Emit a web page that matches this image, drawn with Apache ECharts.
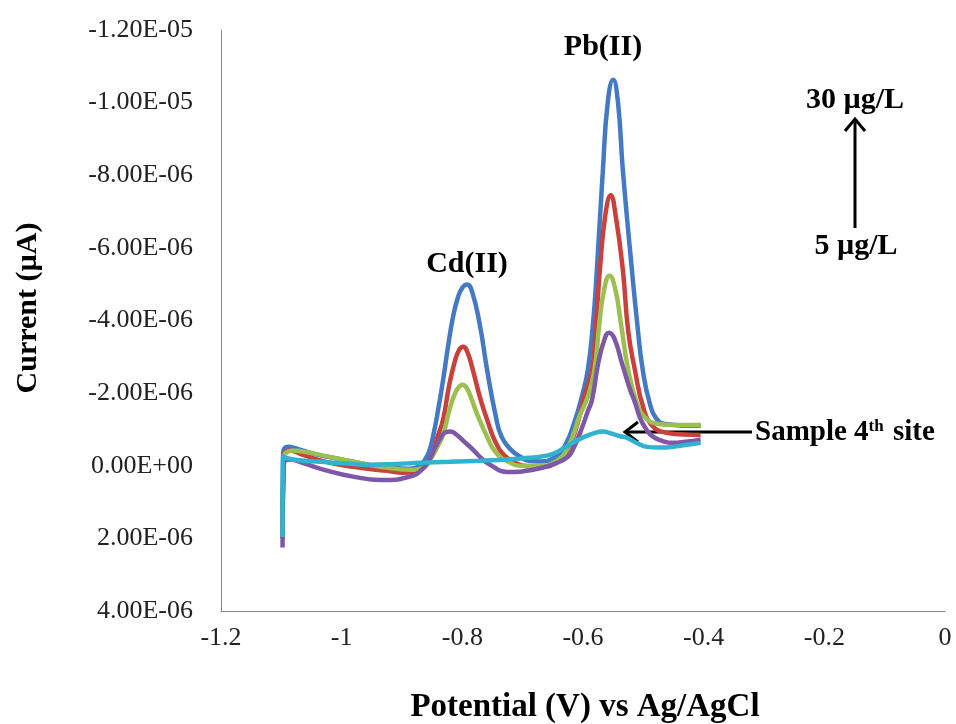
<!DOCTYPE html>
<html>
<head>
<meta charset="utf-8">
<script src="https://cdn.jsdelivr.net/npm/echarts@6/dist/echarts.min.js"></script>
<style>
  html,body{margin:0;padding:0;background:#fff;}
  #main{width:956px;height:724px;}
</style>
</head>
<body>
<div id="main"></div>
<script>
// potentials (V vs Ag/AgCl) and currents (in µA, axis shows A)
var potBlue = [-1.098,-1.097,-1.088,-1.080,-1.065,-1.040,-1.008,-0.970,-0.925,-0.890,-0.870,-0.862,-0.855,-0.848,-0.840,-0.832,-0.824,-0.816,-0.808,-0.800,-0.792,-0.784,-0.771,-0.759,-0.745,-0.735,-0.720,-0.704,-0.690,-0.671,-0.650,-0.630,-0.613,-0.602,-0.592,-0.583,-0.577,-0.567,-0.559,-0.550,-0.542,-0.534,-0.519,-0.510,-0.501,-0.489,-0.477,-0.464,-0.451,-0.430,-0.405]
var curBlue = [1.9,-0.35,-0.52,-0.50,-0.42,-0.30,-0.20,-0.08,0.05,0.08,0.0,-0.17,-0.40,-0.85,-1.55,-2.35,-3.25,-4.05,-4.60,-4.90,-4.99,-4.80,-3.88,-2.64,-1.40,-0.80,-0.45,-0.25,-0.14,-0.12,-0.20,-0.55,-1.27,-1.90,-2.64,-4.0,-5.40,-8.15,-10.0,-10.63,-10.0,-8.15,-5.40,-3.90,-2.64,-1.70,-1.27,-1.15,-1.13,-1.10,-1.10]

var potRed = [-1.098,-1.096,-1.086,-1.064,-1.030,-0.981,-0.925,-0.898,-0.872,-0.860,-0.850,-0.842,-0.832,-0.822,-0.812,-0.805,-0.799,-0.792,-0.782,-0.771,-0.759,-0.745,-0.730,-0.712,-0.690,-0.665,-0.645,-0.628,-0.612,-0.598,-0.585,-0.578,-0.572,-0.563,-0.554,-0.546,-0.534,-0.525,-0.514,-0.500,-0.485,-0.465,-0.440,-0.405]
var curRed = [2.0,-0.25,-0.42,-0.30,-0.12,0.03,0.14,0.19,0.12,-0.05,-0.30,-0.75,-1.27,-2.20,-2.90,-3.20,-3.28,-3.15,-2.60,-1.90,-1.27,-0.65,-0.28,-0.08,0.02,0.03,-0.08,-0.35,-1.00,-1.90,-2.64,-4.0,-5.40,-6.90,-7.45,-6.90,-5.40,-3.70,-2.64,-1.60,-1.10,-0.92,-0.87,-0.85]

var potGreen = [-1.098,-1.096,-1.080,-1.064,-1.030,-0.981,-0.930,-0.887,-0.865,-0.852,-0.842,-0.832,-0.822,-0.812,-0.805,-0.800,-0.793,-0.785,-0.775,-0.759,-0.745,-0.725,-0.700,-0.670,-0.645,-0.625,-0.605,-0.592,-0.581,-0.573,-0.565,-0.556,-0.547,-0.537,-0.525,-0.510,-0.495,-0.475,-0.450,-0.405]
var curGreen = [1.9,-0.20,-0.42,-0.39,-0.28,-0.11,0.04,0.11,0.05,-0.20,-0.50,-0.85,-1.50,-2.00,-2.18,-2.23,-2.15,-1.85,-1.40,-0.80,-0.38,-0.12,0.0,0.0,-0.12,-0.50,-1.40,-1.90,-2.64,-3.90,-4.85,-5.23,-4.90,-3.90,-2.64,-1.70,-1.30,-1.15,-1.12,-1.12]

var potPurple = [-1.098,-1.096,-1.086,-1.060,-1.036,-0.981,-0.925,-0.887,-0.870,-0.856,-0.845,-0.835,-0.828,-0.820,-0.810,-0.796,-0.782,-0.768,-0.754,-0.726,-0.683,-0.643,-0.625,-0.617,-0.605,-0.592,-0.585,-0.575,-0.565,-0.557,-0.548,-0.535,-0.522,-0.514,-0.505,-0.495,-0.484,-0.468,-0.451,-0.430,-0.405]
var curPurple = [2.25,-0.05,-0.17,-0.05,0.08,0.30,0.39,0.30,0.15,-0.12,-0.50,-0.80,-0.92,-0.94,-0.86,-0.65,-0.44,-0.20,-0.03,0.17,0.11,-0.08,-0.25,-0.44,-0.90,-1.50,-1.82,-2.80,-3.45,-3.66,-3.50,-2.80,-2.10,-1.75,-1.30,-1.00,-0.80,-0.68,-0.63,-0.66,-0.72]

var potCyan = [-1.098,-1.097,-1.094,-1.070,-1.036,-0.990,-0.953,-0.910,-0.870,-0.820,-0.770,-0.726,-0.690,-0.671,-0.650,-0.632,-0.617,-0.600,-0.585,-0.567,-0.555,-0.540,-0.527,-0.510,-0.494,-0.475,-0.451,-0.430,-0.405]
var curCyan = [1.96,-0.25,-0.22,-0.15,-0.11,-0.06,-0.03,-0.05,-0.08,-0.11,-0.14,-0.17,-0.22,-0.25,-0.33,-0.48,-0.63,-0.78,-0.88,-0.94,-0.90,-0.82,-0.77,-0.62,-0.52,-0.50,-0.52,-0.57,-0.63]

var seriesNames = ['30 µg/L','20 µg/L','10 µg/L','5 µg/L','Sample 4th site']
var seriesColors = ['#4479c4','#c9403d','#9bbf50','#7c58a6','#30b2d0']

function pairs(xs, ys){
  return xs.map(function(x,i){ return [x, ys[i]] })
}
// µA -> "-1.20E-05" style label, like the original sheet
function sciLabel(v){
  var s = (v*1e-6).toExponential(2).toUpperCase()
  return s.replace(/E([+-])(\d)$/, 'E$10$2')
}

var serif = '"Liberation Serif","Times New Roman",serif'
var chart = echarts.init(document.getElementById('main'))

var allData = [
  pairs(potBlue,curBlue),
  pairs(potRed,curRed),
  pairs(potGreen,curGreen),
  pairs(potPurple,curPurple),
  pairs(potCyan,curCyan)
]

chart.setOption({
  animation:false,
  backgroundColor:'#fff',
  grid:{left:221,right:11,top:30,bottom:113},
  xAxis:{
    type:'value',min:-1.2,max:0,interval:0.2,
    axisLine:{onZero:false,lineStyle:{color:'#868686',width:1}},
    axisTick:{show:false},
    splitLine:{show:false},
    axisLabel:{color:'#222',fontFamily:serif,fontSize:26,margin:14}
  },
  yAxis:{
    type:'value',inverse:true,min:-12,max:4,interval:2,
    axisLine:{show:true,onZero:false,lineStyle:{color:'#868686',width:1}},
    axisTick:{show:false},
    splitLine:{show:false},
    axisLabel:{color:'#222',fontFamily:serif,fontSize:26,margin:28,formatter:sciLabel}
  },
  series: allData.map(function(d,i){
    return {
      name:seriesNames[i],type:'line',data:d,
      showSymbol:false,smooth:0.5,
      lineStyle:{color:seriesColors[i],width:4.5},
      itemStyle:{color:seriesColors[i]},
      z:2+i
    }
  }),
  graphic:[
    {type:'text',x:28,y:308,rotation:Math.PI/2,
      style:{text:'Current (µA)',font:'bold 30px '+serif,fill:'#000',align:'center',verticalAlign:'middle'}},
    {type:'text',x:585,y:707,
      style:{text:'Potential (V) vs Ag/AgCl',font:'bold 33px '+serif,fill:'#000',align:'center',verticalAlign:'middle'}},
    {type:'text',x:467,y:264,
      style:{text:'Cd(II)',font:'bold 30px '+serif,fill:'#000',align:'center',verticalAlign:'middle'}},
    {type:'text',x:603,y:47,
      style:{text:'Pb(II)',font:'bold 30px '+serif,fill:'#000',align:'center',verticalAlign:'middle'}},
    {type:'text',x:855,y:100,
      style:{text:'30 µg/L',font:'bold 30px '+serif,fill:'#000',align:'center',verticalAlign:'middle'}},
    {type:'text',x:856,y:246,
      style:{text:'5 µg/L',font:'bold 30px '+serif,fill:'#000',align:'center',verticalAlign:'middle'}},
    {type:'line',shape:{x1:855,y1:228,x2:855,y2:121},style:{stroke:'#000',lineWidth:3}},
    {type:'polyline',shape:{points:[[845,131],[855,119],[865,131]]},style:{stroke:'#000',lineWidth:3,fill:null}},
    {type:'line',shape:{x1:752,y1:432,x2:626,y2:432},style:{stroke:'#000',lineWidth:3}},
    {type:'polyline',shape:{points:[[638,422],[625,432],[638,442]]},style:{stroke:'#000',lineWidth:3,fill:null}},
    {type:'text',x:755,y:433,
      style:{
        text:'{b|Sample 4}{s|th}{b| site}',
        verticalAlign:'middle',align:'left',
        rich:{
          b:{font:'bold 29px '+serif,fill:'#000'},
          s:{font:'bold 17px '+serif,fill:'#000',padding:[0,2,13,0]}
        }
      }}
  ]
})
</script>
</body>
</html>
